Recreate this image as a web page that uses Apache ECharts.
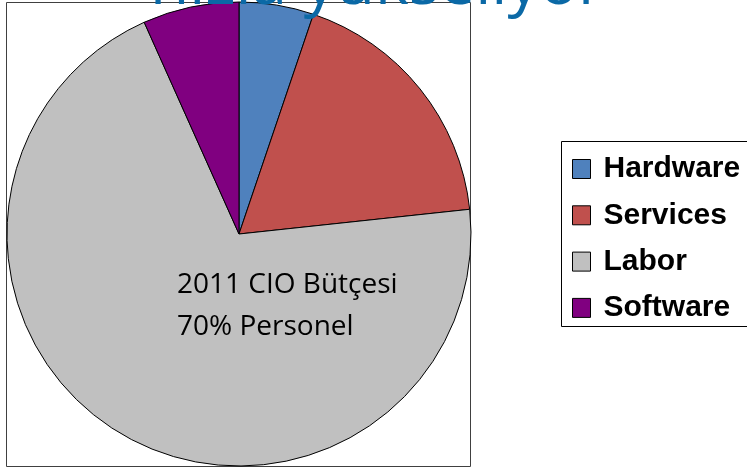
<!DOCTYPE html>
<html>
<head>
<meta charset="utf-8">
<script src="https://cdn.jsdelivr.net/npm/echarts@6/dist/echarts.min.js"></script>
<style>
  html, body { margin: 0; padding: 0; background: #fff; }
  #chart { width: 747px; height: 469px; }
</style>
</head>
<body>
<div id="chart"></div>
<script>
// Budget shares (percent) by category
const categories = ['Hardware', 'Services', 'Labor', 'Software'];
const shares = [5.2, 18.1, 70, 6.7];
const sliceColors = ['#4F81BD', '#C0504D', '#C0C0C0', '#800080'];

const headline = 'hızla yükseliyor';
const noteLines = ['2011 CIO Bütçesi', '70% Personel'];

const chart = echarts.init(document.getElementById('chart'), null, { renderer: 'canvas' });

const pieData = categories.map((name, i) => ({
  name: name,
  value: shares[i],
  itemStyle: { color: sliceColors[i] }
}));

chart.setOption({
  animation: false,
  backgroundColor: '#ffffff',
  legend: {
    orient: 'vertical',
    left: 561,
    top: 141,
    data: categories,
    icon: 'rect',
    itemWidth: 18,
    itemHeight: 19,
    itemGap: 16.3,
    padding: [13, 0, 5, 11],
    textStyle: {
      fontFamily: 'Liberation Sans, Arial, sans-serif',
      fontWeight: 'bold',
      fontSize: 30,
      color: '#000000',
      padding: [0, 0, 0, 8],
      lineHeight: 30
    },
    itemStyle: { borderColor: '#000000', borderWidth: 1 }
  },
  graphic: [
    {
      type: 'rect',
      z: 0,
      silent: true,
      shape: { x: 6.5, y: 2.5, width: 464, height: 464 },
      style: { fill: 'none', stroke: '#404040', lineWidth: 1 }
    },
    {
      // legend frame, running past the right edge of the canvas
      type: 'rect',
      z: 0,
      silent: true,
      shape: { x: 561.5, y: 141.5, width: 220, height: 185 },
      style: { fill: 'none', stroke: '#000000', lineWidth: 1 }
    },
    {
      type: 'text',
      z: 100,
      left: 150,
      top: -46,
      silent: true,
      style: {
        text: headline,
        fontFamily: 'Open Sans, Noto Sans, sans-serif',
        fontSize: 64,
        fill: '#0B69A6'
      }
    },
    {
      type: 'text',
      z: 100,
      left: 177,
      top: 264,
      silent: true,
      style: {
        text: noteLines.join('\n'),
        fontFamily: 'Open Sans, Noto Sans, sans-serif',
        fontSize: 28,
        lineHeight: 42,
        fill: '#000000'
      }
    }
  ],
  series: [{
    type: 'pie',
    center: [239, 234],
    radius: [0, 232],
    startAngle: 90,
    clockwise: true,
    label: { show: false },
    labelLine: { show: false },
    emphasis: { disabled: true },
    itemStyle: { borderColor: '#000000', borderWidth: 1 },
    data: pieData
  }]
});
</script>
</body>
</html>
